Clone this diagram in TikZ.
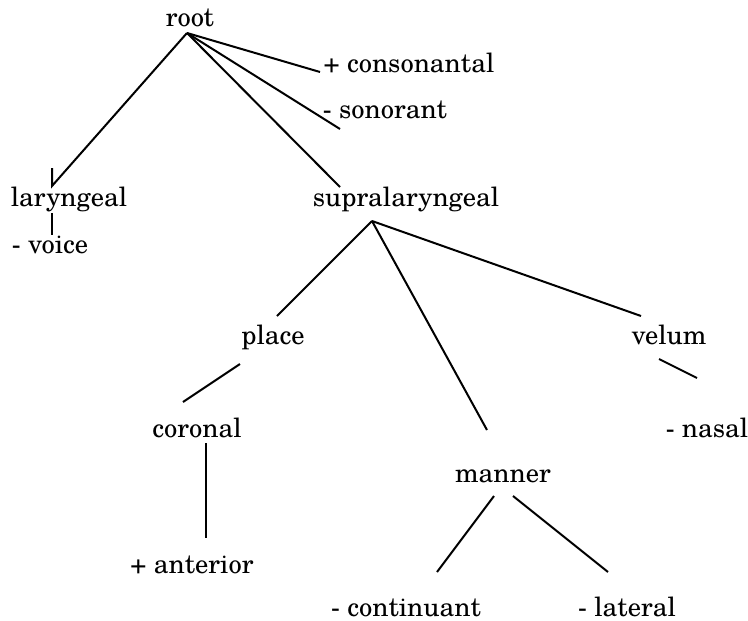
\documentclass[tikz,border=0pt]{standalone}
\usepackage{fontspec}
\setmainfont{TeX Gyre Schola}
\begin{document}
\begin{tikzpicture}[x=1pt,y=-1pt,
  feat/.style={inner sep=0pt,anchor=base,font=\fontsize{26.5}{32}\selectfont},
  branch/.style={line width=2pt,line join=miter},
  thinbranch/.style={line width=1.2pt}]
\useasboundingbox (0,0) rectangle (748,621);

% feature labels (placed on their baselines)
\node[feat] (root)    at (190,27)  {root};
\node[feat] (cons)    at (409,72)  {+ consonantal};
\node[feat] (son)     at (385,118) {- sonorant};
\node[feat] (lar)     at (69,206)  {laryngeal};
\node[feat] (voice)   at (50,253)  {- voice};
\node[feat] (supra)   at (406,206) {supralaryngeal};
\node[feat] (place)   at (273,344) {place};
\node[feat] (velum)   at (669,344) {velum};
\node[feat] (coronal) at (197,437) {coronal};
\node[feat] (nasal)   at (707,437) {- nasal};
\node[feat] (manner)  at (503,482) {manner};
\node[feat] (ant)     at (192,573) {+ anterior};
\node[feat] (cont)    at (406,616) {- continuant};
\node[feat] (lat)     at (627,616) {- lateral};

% branch end points
\coordinate (root-b)   at (187,33);
\coordinate (cons-t)   at (320,72);
\coordinate (son-t)    at (340,129);
\coordinate (supra-t)  at (340,187);
\coordinate (lar-t)    at (52,186);
\coordinate (lar-tick) at (52,168);
\coordinate (lar-b)    at (52,213);
\coordinate (voice-t)  at (52,235);
\coordinate (supra-b)  at (372,221);
\coordinate (place-t)  at (277,316);
\coordinate (manner-t) at (487,430);
\coordinate (velum-t)  at (641,316);
\coordinate (place-b)  at (240,364);
\coordinate (coronal-t) at (183,402);
\coordinate (velum-b)  at (659,359);
\coordinate (nasal-t)  at (697,378);
\coordinate (coronal-b) at (206,443);
\coordinate (ant-t)    at (206,538);
\coordinate (manner-bl) at (494,496);
\coordinate (cont-t)   at (437,572);
\coordinate (manner-br) at (513,496);
\coordinate (lat-t)    at (608,572);

% root tier
\draw[branch] (root-b) -- (cons-t);
\draw[branch] (root-b) -- (son-t);
\draw[branch] (root-b) -- (supra-t);
\draw[branch] (root-b) -- (lar-t) -- (lar-tick);
\draw[thinbranch] (lar-b) -- (voice-t);

% supralaryngeal tier
\draw[branch] (supra-b) -- (place-t);
\draw[branch] (supra-b) -- (manner-t);
\draw[branch] (supra-b) -- (velum-t);

% lower tiers
\draw[branch] (place-b) -- (coronal-t);
\draw[branch] (velum-b) -- (nasal-t);
\draw[branch] (coronal-b) -- (ant-t);
\draw[branch] (manner-bl) -- (cont-t);
\draw[branch] (manner-br) -- (lat-t);
\end{tikzpicture}
\end{document}
